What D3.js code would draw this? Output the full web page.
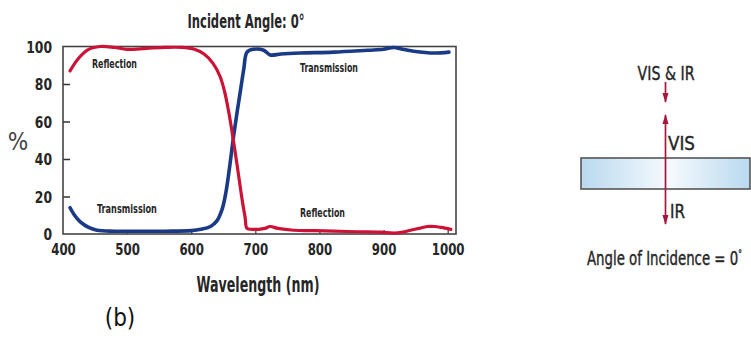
<!DOCTYPE html>
<html>
<head>
<meta charset="utf-8">
<script src="https://cdn.jsdelivr.net/npm/d3@7"></script>
<style>
  html, body { margin: 0; padding: 0; background: #fff; }
  svg { display: block; }
  text { font-family: "DejaVu Sans Condensed", "DejaVu Sans", sans-serif; }
</style>
</head>
<body>
<svg id="chart" width="751" height="341"></svg>
<script>
// Wavelength sweep (nm) and percent values for each curve
const reflWl = [411, 425, 440, 458, 480, 500, 530, 560, 585, 605, 620, 634, 645, 652, 658, 663, 668, 674, 680, 684, 687, 695, 705, 715, 723, 735, 760, 790, 822, 860, 895, 916, 930, 942, 955, 968, 980, 990, 1005];
const reflVal = [87, 94, 98.5, 100, 99.5, 98.5, 99, 99.5, 99.5, 98.5, 96, 91, 84, 76, 66, 56, 45, 31, 17, 9, 3, 2.5, 2.5, 3, 4, 3, 2, 1.8, 1.5, 1.2, 1, 0.5, 1, 2, 3, 4, 4, 3.5, 2.5];

const transWl = [411, 418, 427, 440, 453, 480, 520, 560, 600, 615, 630, 640, 648, 654, 660, 666, 672, 677, 682, 687, 697, 713, 723, 740, 770, 822, 875, 900, 916, 930, 947, 978, 1002];
const transVal = [14, 10, 6.5, 3.5, 2, 1.5, 1.5, 1.5, 1.8, 2.5, 4, 7, 13, 22, 36, 52, 66, 77, 88, 97, 98.5, 98, 95.5, 96, 96.5, 97, 98, 98.5, 99.5, 98.5, 97.5, 96.5, 97];

const xTicks = [400, 500, 600, 700, 800, 900, 1000];
const yTicks = [0, 20, 40, 60, 80, 100];

const RED = "#cc1236";
const BLUE = "#1b3a86";
const ARROW = "#a8163c";
const INK = "#262626";

const svg = d3.select("#chart");

const x = d3.scaleLinear().domain([400, 1013]).range([63, 456]);
const y = d3.scaleLinear().domain([0, 100]).range([234, 46.5]);

// Tick labels: squeeze each to a fixed width per character
function squeeze(sel, perChar) {
  sel.each(function () {
    const t = d3.select(this);
    const n = t.text().length;
    t.attr("textLength", perChar * n).attr("lengthAdjust", "spacingAndGlyphs");
  });
}

// Free text, horizontally scaled to a target width for a narrow display look
function addText(tx, ty, str, opts) {
  const t = svg.append("text")
    .attr("x", 0).attr("y", 0)
    .attr("text-anchor", opts.anchor || "start")
    .attr("font-size", opts.size)
    .attr("font-weight", opts.weight || "normal")
    .attr("fill", opts.fill || INK)
    .text(str);
  if (opts.sup) {
    t.append("tspan").attr("font-size", opts.size * 0.55).attr("dy", -opts.size * 0.38).text(opts.sup);
  }
  if (opts.heavy) t.attr("stroke", opts.fill || INK).attr("stroke-width", opts.heavy);
  let sx = 1;
  if (opts.width) sx = opts.width / t.node().getComputedTextLength();
  t.attr("transform", `translate(${tx},${ty}) scale(${sx},1)`);
  return t;
}

// Title
addText(246, 28, "Incident Angle: 0°", { anchor: "middle", size: 20, weight: "bold", width: 117 });

// Axes with inward ticks
const yAxis = d3.axisLeft(y).tickValues(yTicks).tickSizeInner(-7).tickSizeOuter(0).tickPadding(11);
const gy = svg.append("g").attr("transform", `translate(${x(400)},0)`).call(yAxis);
gy.select(".domain").remove();
gy.selectAll(".tick line").attr("stroke", "#333").attr("stroke-width", 1.5)
  .filter(d => d === 0 || d === 100).remove();
gy.selectAll("text").attr("font-size", 16).attr("font-weight", "bold").attr("fill", INK)
  .attr("font-family", "DejaVu Sans Condensed, DejaVu Sans, sans-serif").attr("dy", "0.36em")
  .call(squeeze, 8.6);

const xAxis = d3.axisBottom(x).tickValues(xTicks).tickFormat(d3.format("d"))
  .tickSizeInner(-4).tickSizeOuter(0).tickPadding(10);
const gx = svg.append("g").attr("transform", `translate(0,${y(0)})`).call(xAxis);
gx.select(".domain").remove();
gx.selectAll(".tick line").attr("stroke", "#333").attr("stroke-width", 1.2)
  .filter(d => d === 400).remove();
gx.selectAll("text").attr("font-size", 16).attr("font-weight", "bold").attr("fill", INK)
  .attr("font-family", "DejaVu Sans Condensed, DejaVu Sans, sans-serif")
  .call(squeeze, 8.2);

// Plot frame
svg.append("rect")
  .attr("x", x(400)).attr("y", y(100))
  .attr("width", x(1013) - x(400)).attr("height", y(0) - y(100))
  .attr("fill", "none").attr("stroke", "#444").attr("stroke-width", 1.6);

// Curves
const line = d3.line().x(d => x(d[0])).y(d => y(d[1])).curve(d3.curveCatmullRom.alpha(0.5));
svg.append("path").datum(transWl.map((w, i) => [w, transVal[i]]))
  .attr("d", line).attr("fill", "none").attr("stroke", BLUE).attr("stroke-width", 3.6)
  .attr("stroke-linejoin", "round").attr("stroke-linecap", "round");
svg.append("path").datum(reflWl.map((w, i) => [w, reflVal[i]]))
  .attr("d", line).attr("fill", "none").attr("stroke", RED).attr("stroke-width", 3.2)
  .attr("stroke-linejoin", "round").attr("stroke-linecap", "round");

// Curve labels
addText(92, 68, "Reflection", { size: 12, weight: "bold", width: 45 });
addText(300, 72, "Transmission", { size: 12, weight: "bold", width: 58 });
addText(97, 213, "Transmission", { size: 12, weight: "bold", width: 60 });
addText(300, 217, "Reflection", { size: 12, weight: "bold", width: 45 });

// Axis titles
addText(18, 150, "%", { anchor: "middle", size: 24, fill: "#444" });
addText(258, 292, "Wavelength (nm)", { anchor: "middle", size: 21, weight: "bold", width: 123 });
svg.append("text").attr("x", 120).attr("y", 326).attr("text-anchor", "middle")
  .attr("font-family", "Liberation Sans, Arial, sans-serif").attr("font-size", 24)
  .attr("fill", "#111").text("(b)");

// Side diagram: plate with normally incident beam
const defs = svg.append("defs");
const grad = defs.append("linearGradient").attr("id", "plate").attr("x1", "0%").attr("x2", "100%");
grad.append("stop").attr("offset", "0%").attr("stop-color", "#b9d9ef");
grad.append("stop").attr("offset", "52%").attr("stop-color", "#f6fafd");
grad.append("stop").attr("offset", "100%").attr("stop-color", "#b9d9ef");
const mk = defs.append("marker").attr("id", "head").attr("viewBox", "0 0 10 6")
  .attr("refX", 9).attr("refY", 3).attr("markerWidth", 6).attr("markerHeight", 3.6)
  .attr("orient", "auto").attr("markerUnits", "strokeWidth");
mk.append("path").attr("d", "M0,0 L10,3 L0,6 Z").attr("fill", ARROW);

const bx = 665.5;
svg.append("rect").attr("x", 581).attr("y", 158).attr("width", 169).attr("height", 31)
  .attr("fill", "url(#plate)").attr("stroke", "#555").attr("stroke-width", 1.6);

svg.append("line").attr("x1", bx).attr("y1", 82).attr("x2", bx).attr("y2", 102)
  .attr("stroke", ARROW).attr("stroke-width", 1.7).attr("marker-end", "url(#head)");
svg.append("line").attr("x1", bx).attr("y1", 158).attr("x2", bx).attr("y2", 115)
  .attr("stroke", ARROW).attr("stroke-width", 1.7).attr("marker-end", "url(#head)");
svg.append("line").attr("x1", bx).attr("y1", 158).attr("x2", bx).attr("y2", 224)
  .attr("stroke", ARROW).attr("stroke-width", 1.7).attr("marker-end", "url(#head)");

addText(666, 80, "VIS & IR", { anchor: "middle", size: 20, width: 57, heavy: 0.4 });
addText(668, 150, "VIS", { size: 20, width: 27, heavy: 0.4 });
addText(670, 218, "IR", { size: 20, width: 15, heavy: 0.4 });
addText(587, 265, "Angle of Incidence = 0", { size: 20, width: 155, heavy: 0.4, sup: "°" });
</script>
</body>
</html>
